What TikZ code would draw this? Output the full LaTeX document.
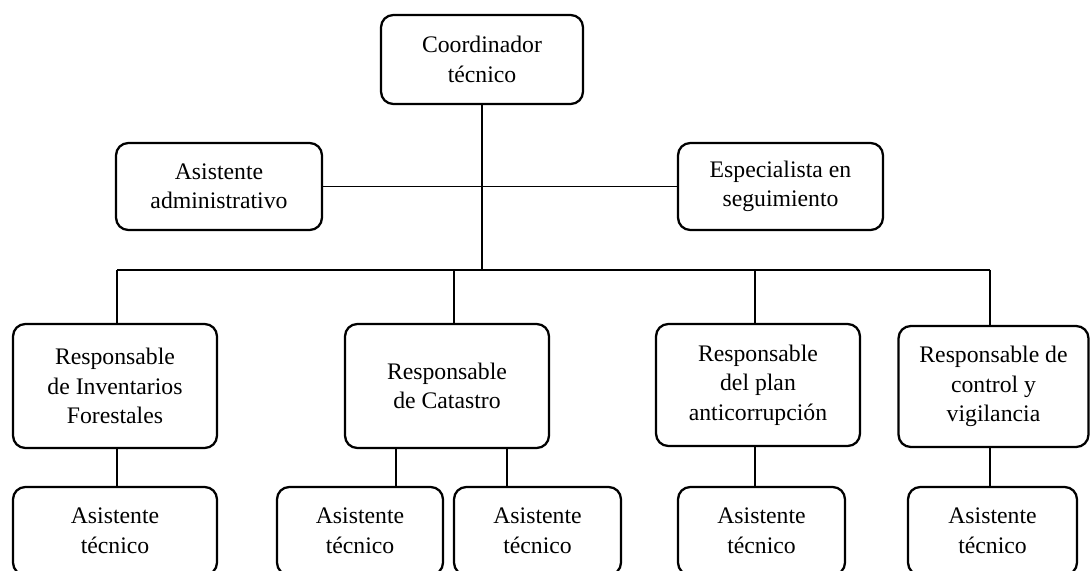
\documentclass[tikz,border=0pt]{standalone}
\usepackage{fontspec}
\setmainfont{Liberation Serif}

\begin{document}
\begin{tikzpicture}[x=0.02cm,y=-0.02cm,
    puesto/.style={draw,line width=1.3pt,rounded corners=7pt,align=center,inner sep=0pt,font=\fontsize{13.5}{16.8}\selectfont},
    enlace/.style={line width=0.6pt}]
    \useasboundingbox (0,0) rectangle (1090,571);

    \node[puesto,minimum width=4.04cm,minimum height=1.78cm] (coord) at (482,59.5)  {Coordinador\\técnico};
    \node[puesto,minimum width=4.12cm,minimum height=1.74cm] (adm)   at (219,186.5) {Asistente\\administrativo};
    \node[puesto,minimum width=4.10cm,minimum height=1.74cm] (esp)   at (780.5,186.5) {Especialista en\\seguimiento};

    \node[puesto,minimum width=4.08cm,minimum height=2.48cm] (inv)  at (115,386)   {Responsable\\de Inventarios\\Forestales};
    \node[puesto,minimum width=4.08cm,minimum height=2.48cm] (cat)  at (447,386)   {Responsable\\de Catastro};
    \node[puesto,minimum width=4.08cm,minimum height=2.44cm] (anti) at (758,385)   {Responsable\\del plan\\anticorrupción};
    \node[puesto,minimum width=3.80cm,minimum height=2.42cm] (ctrl) at (993.5,386.5) {Responsable de\\control y\\vigilancia};

    \node[puesto,minimum width=4.08cm,minimum height=1.76cm] (a1) at (115,531)   {Asistente\\técnico};
    \node[puesto,minimum width=3.32cm,minimum height=1.76cm] (a2) at (360,531)   {Asistente\\técnico};
    \node[puesto,minimum width=3.34cm,minimum height=1.76cm] (a3) at (537.5,531) {Asistente\\técnico};
    \node[puesto,minimum width=3.34cm,minimum height=1.76cm] (a4) at (761.5,531) {Asistente\\técnico};
    \node[puesto,minimum width=3.38cm,minimum height=1.76cm] (a5) at (992.5,531) {Asistente\\técnico};

    \coordinate (bus) at (482,270);
    \coordinate (t1) at (117,270);
    \coordinate (t2) at (454,270);
    \coordinate (t3) at (755,270);
    \coordinate (t4) at (990,270);
    \coordinate (d2) at (396,0);
    \coordinate (d3) at (507,0);

    \draw[enlace] (coord) -- (bus);
    \draw[enlace] (adm) -- (esp);
    \draw[enlace] (t1) -- (t4);
    \draw[enlace] (t1) -- (t1 |- inv.north);
    \draw[enlace] (t2) -- (t2 |- cat.north);
    \draw[enlace] (t3) -- (t3 |- anti.north);
    \draw[enlace] (t4) -- (t4 |- ctrl.north);

    \draw[enlace] (inv.south -| t1) -- (a1.north -| t1);
    \draw[enlace] (cat.south -| d2) -- (a2.north -| d2);
    \draw[enlace] (cat.south -| d3) -- (a3.north -| d3);
    \draw[enlace] (anti.south -| t3) -- (a4.north -| t3);
    \draw[enlace] (ctrl.south -| t4) -- (a5.north -| t4);
\end{tikzpicture}
\end{document}
